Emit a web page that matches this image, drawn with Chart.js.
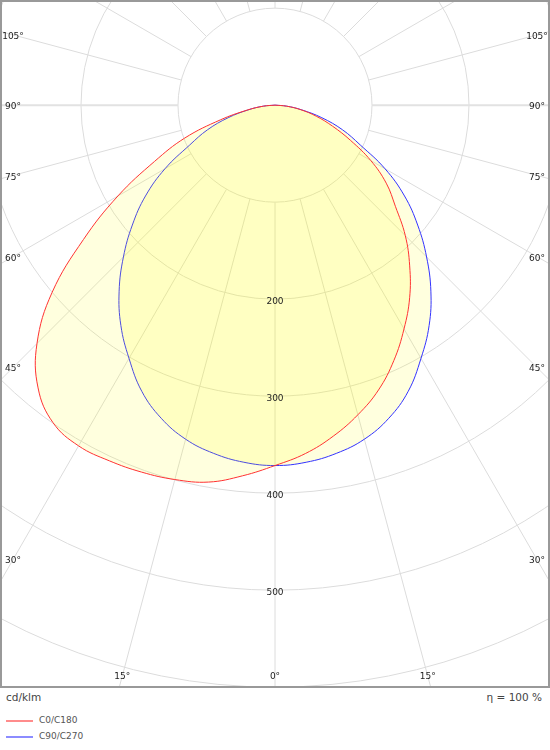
<!DOCTYPE html>
<html>
<head>
<meta charset="utf-8">
<script src="https://cdn.jsdelivr.net/npm/chart.js@4.4.0/dist/chart.umd.min.js"></script>
<style>
  body { margin: 0; background: #fff; font-family: "DejaVu Sans", Verdana, sans-serif; }
  #wrap { position: relative; width: 550px; height: 750px; }
  #ldc { position: absolute; left: 0; top: 0; }
  .foot { position: absolute; font-size: 10.5px; color: #444; top: 691px; }
  .leg { position: absolute; left: 6px; font-size: 9px; color: #555; }
  .leg i { display: inline-block; width: 27px; height: 2px; vertical-align: middle; margin-right: 6px; }
</style>
</head>
<body>
<div id="wrap">
  <canvas id="ldc" width="550" height="688"></canvas>
  <div class="foot" style="left:6px">cd/klm</div>
  <div class="foot" style="right:8px">η = 100 %</div>
  <div class="leg" style="top:715px"><i style="background:#ff8c8c"></i>C0/C180</div>
  <div class="leg" style="top:731px"><i style="background:#8c8cff"></i>C90/C270</div>
</div>
<script>
// ----- dados (cd/klm) -----
const gammas = [0, 5, 10, 15, 20, 25, 30, 35, 40, 45, 50, 55, 60, 65, 70, 75, 80, 85, 90];
const c0   = [371, 360, 346, 330, 312, 290, 266, 242, 216, 190, 162, 140, 114, 86, 63, 44, 27, 12, 0];
const c180 = [371, 383, 394, 399, 402, 404, 405, 399, 380, 347, 300, 241, 187, 137, 99, 58, 29, 12, 0];
const c90  = [371, 369, 364, 356, 343, 325, 301, 277, 250, 221, 192, 163, 131, 97, 74, 50, 28, 12, 0];
const c270 = [371, 369, 364, 356, 343, 325, 301, 277, 250, 221, 192, 163, 131, 97, 74, 50, 28, 12, 0];

const rings = [100, 200, 300, 400, 500, 600, 700, 800, 900];
const ringLabels = [200, 300, 400, 500];
const angleLabels = [-105, -90, -75, -60, -45, -30, -15, 0, 15, 30, 45, 60, 75, 90, 105];

const rad = d => d * Math.PI / 180;

// meia curva esquerda (90 -> 0) + meia curva direita (0 -> 90)
function curva(esq, dir) {
  const pts = [];
  for (let i = gammas.length - 1; i >= 0; i--) {
    const g = rad(gammas[i]);
    pts.push({ x: -esq[i] * Math.sin(g), y: -esq[i] * Math.cos(g) });
  }
  for (let i = 1; i < gammas.length; i++) {
    const g = rad(gammas[i]);
    pts.push({ x: dir[i] * Math.sin(g), y: -dir[i] * Math.cos(g) });
  }
  return pts;
}

const polarGrid = {
  id: 'polarGrid',
  beforeDatasetsDraw(chart) {
    const { ctx, chartArea: a, scales: { x, y } } = chart;
    const cx = x.getPixelForValue(0), cy = y.getPixelForValue(0);
    const px = v => x.getPixelForValue(v) - cx;
    ctx.save();
    ctx.beginPath();
    ctx.rect(a.left, a.top, a.right - a.left, a.bottom - a.top);
    ctx.clip();
    ctx.strokeStyle = '#dcdcdc';
    ctx.lineWidth = 1;
    rings.forEach(r => {
      ctx.beginPath();
      ctx.arc(cx, cy, px(r), 0, Math.PI * 2);
      ctx.stroke();
    });
    for (let ang = -180; ang < 180; ang += 15) {
      const s = Math.sin(rad(ang)), c = Math.cos(rad(ang));
      ctx.beginPath();
      ctx.lineWidth = Math.abs(ang) === 90 ? 2 : 1;
      ctx.strokeStyle = Math.abs(ang) === 90 ? '#e2e2e2' : '#dcdcdc';
      ctx.moveTo(x.getPixelForValue(100 * s), y.getPixelForValue(-100 * c));
      ctx.lineTo(x.getPixelForValue(1200 * s), y.getPixelForValue(-1200 * c));
      ctx.stroke();
    }
    ctx.restore();
  },
  afterDatasetsDraw(chart) {
    const { ctx, chartArea: a, scales: { x, y } } = chart;
    const cx = x.getPixelForValue(0), cy = y.getPixelForValue(0);
    ctx.save();
    ctx.font = '9px "DejaVu Sans", Verdana, sans-serif';
    ctx.fillStyle = '#222';
    ctx.textAlign = 'center';
    ctx.textBaseline = 'middle';
    ringLabels.forEach(r => {
      ctx.fillText(String(r), cx, y.getPixelForValue(-r) + 2);
    });
    const ins = 13;
    angleLabels.forEach(ang => {
      const dx = Math.sin(rad(ang)), dy = Math.cos(rad(ang));
      let t = Infinity;
      if (dx > 1e-6) t = Math.min(t, (a.right - ins - cx) / dx);
      if (dx < -1e-6) t = Math.min(t, (a.left + ins - cx) / dx);
      if (dy > 1e-6) t = Math.min(t, (a.bottom - ins - cy) / dy);
      if (dy < -1e-6) t = Math.min(t, (a.top + ins - cy) / dy);
      ctx.fillText(Math.abs(ang) + '°', cx + dx * t, cy + dy * t + 2);
    });
    ctx.strokeStyle = '#999';
    ctx.lineWidth = 2;
    ctx.strokeRect(a.left + 1, a.top + 1, a.right - a.left - 2, a.bottom - a.top - 2);
    ctx.restore();
  }
};

new Chart(document.getElementById('ldc'), {
  type: 'scatter',
  data: {
    datasets: [
      {
        label: 'C0/C180',
        data: curva(c180, c0),
        showLine: true,
        borderColor: 'rgb(255, 50, 50)',
        backgroundColor: 'rgba(255, 255, 0, 0.13)',
        borderWidth: 1,
        pointRadius: 0,
        tension: 0.4,
        fill: 'shape'
      },
      {
        label: 'C90/C270',
        data: curva(c270, c90),
        showLine: true,
        borderColor: 'rgb(50, 50, 255)',
        backgroundColor: 'rgba(255, 255, 0, 0.13)',
        borderWidth: 1,
        pointRadius: 0,
        tension: 0.4,
        fill: 'shape'
      }
    ]
  },
  options: {
    responsive: false,
    animation: false,
    layout: { padding: 0 },
    scales: {
      x: { type: 'linear', min: -283.5, max: 283.5, display: false },
      y: { type: 'linear', min: -600, max: 108.25, display: false }
    },
    plugins: {
      legend: { display: false },
      tooltip: { enabled: false }
    }
  },
  plugins: [polarGrid]
});
</script>
</body>
</html>
